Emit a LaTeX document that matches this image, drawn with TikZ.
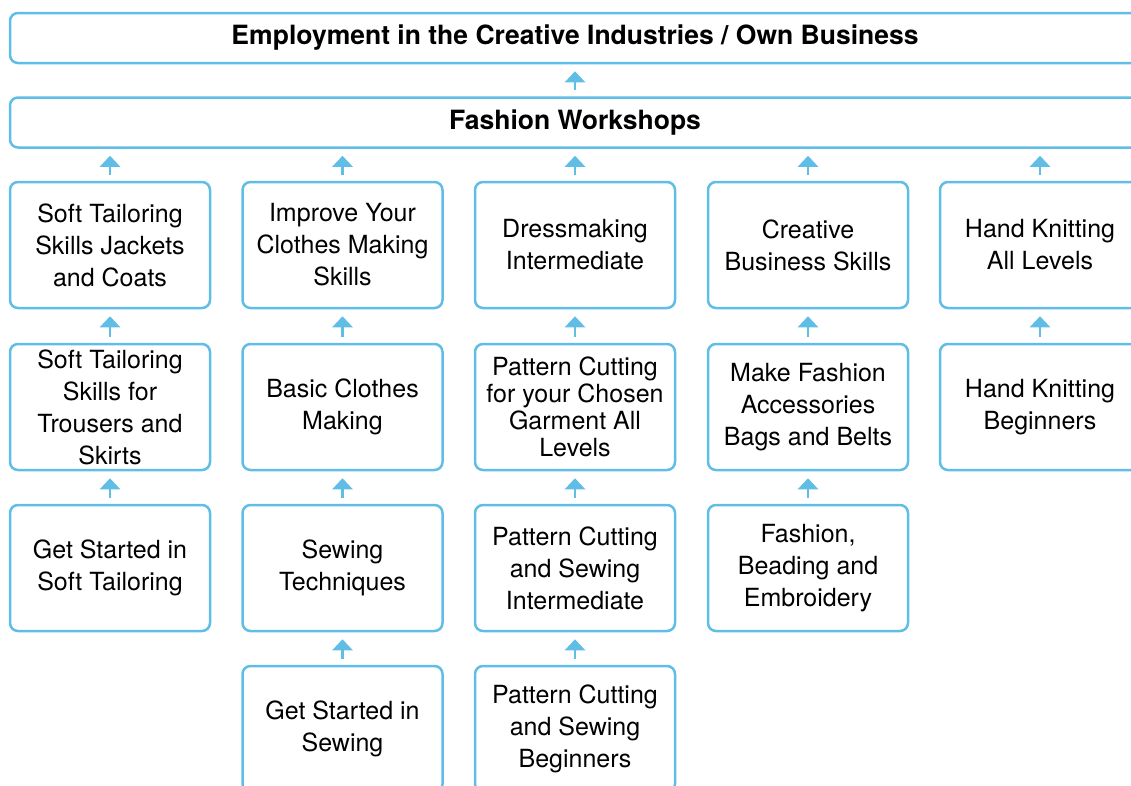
\documentclass[tikz,border=0pt]{standalone}
\usepackage{fontspec}
\setmainfont{TeX Gyre Heros}
\usetikzlibrary{arrows.meta}
\definecolor{courseblue}{RGB}{96,189,230}

\begin{document}
\begin{tikzpicture}[x=1pt,y=1pt,
  course/.style={draw=courseblue, line width=2.5pt, rounded corners=8pt,
    minimum width=200pt, minimum height=126pt, inner sep=0pt, align=center,
    font=\fontsize{25}{32}\selectfont},
  banner/.style={draw=courseblue, line width=2.5pt, rounded corners=8pt,
    minimum width=1130pt, minimum height=50pt, inner sep=0pt,
    font=\fontsize{26.5}{30}\selectfont\bfseries},
  upto/.style={-{Triangle[width=20pt,length=11pt]}, draw=courseblue,
    line width=2.5pt, shorten <=6pt, shorten >=7pt}]
\clip (0,0) rectangle (1131,-785);

\node[banner] (employ) at (575,-38) {Employment in the Creative Industries / Own Business};
\node[banner] (workshops) at (575,-122.5) {Fashion Workshops};

\node[course] (softA) at (110,-245) {Soft Tailoring\\Skills Jackets\\and Coats};
\node[course] (softB) at (110,-407) {Soft Tailoring\\Skills for\\Trousers and\\Skirts};
\node[course] (softC) at (110,-568) {Get Started in\\Soft Tailoring};

\node[course] (sewA) at (342.5,-245) {Improve Your\\Clothes Making\\Skills};
\node[course] (sewB) at (342.5,-407) {Basic Clothes\\Making};
\node[course] (sewC) at (342.5,-568) {Sewing\\Techniques};
\node[course] (sewD) at (342.5,-729) {Get Started in\\Sewing};

\node[course] (dressA) at (575,-245) {Dressmaking\\Intermediate};
\node[course, font=\fontsize{25}{27}\selectfont] (dressB) at (575,-407) {Pattern Cutting\\for your Chosen\\Garment All\\Levels};
\node[course] (dressC) at (575,-568) {Pattern Cutting\\and Sewing\\Intermediate};
\node[course] (dressD) at (575,-729) {Pattern Cutting\\and Sewing\\Beginners};

\node[course] (bizA) at (808,-245) {Creative\\Business Skills};
\node[course] (bizB) at (808,-407) {Make Fashion\\Accessories\\Bags and Belts};
\node[course] (bizC) at (808,-568) {Fashion,\\Beading and\\Embroidery};

\node[course] (knitA) at (1040,-245) {Hand Knitting\\All Levels};
\node[course] (knitB) at (1040,-407) {Hand Knitting\\Beginners};

% arrows up to the banners
\draw[upto] (workshops.north) -- (employ.south);
\foreach \n in {softA,sewA,dressA,bizA,knitA}
  \draw[upto] (\n.north) -- (\n.north |- workshops.south);

% arrows inside the columns
\draw[upto] (softC) -- (softB);
\draw[upto] (softB) -- (softA);
\draw[upto] (sewD) -- (sewC);
\draw[upto] (sewC) -- (sewB);
\draw[upto] (sewB) -- (sewA);
\draw[upto] (dressD) -- (dressC);
\draw[upto] (dressC) -- (dressB);
\draw[upto] (dressB) -- (dressA);
\draw[upto] (bizC) -- (bizB);
\draw[upto] (bizB) -- (bizA);
\draw[upto] (knitB) -- (knitA);

\end{tikzpicture}
\end{document}
